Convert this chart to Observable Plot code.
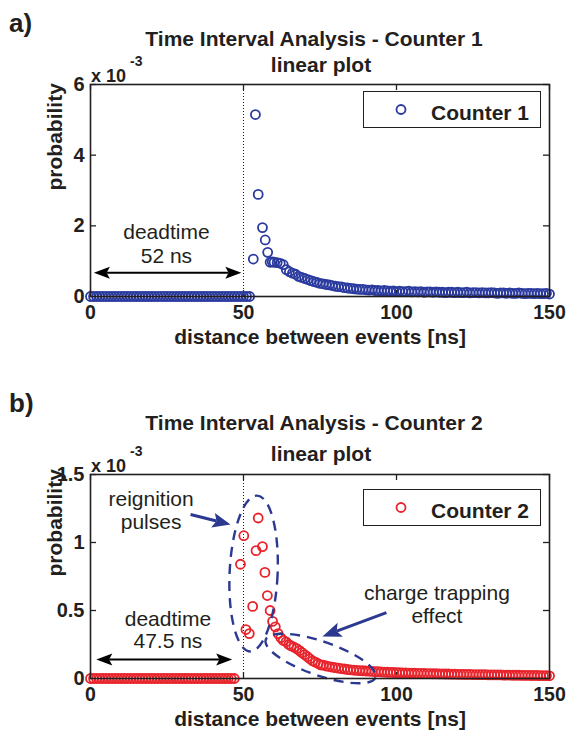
<!DOCTYPE html>
<html>
<head>
<meta charset="utf-8">
<script src="https://cdn.jsdelivr.net/npm/d3@7"></script>
<script src="https://cdn.jsdelivr.net/npm/@observablehq/plot@0.6"></script>
<style>
  body { margin: 0; background: #fff; }
  #fig { position: relative; width: 569px; height: 734px; overflow: hidden; background: #fff;
         font-family: "Liberation Sans", Arial, Helvetica, sans-serif; color: #231f20; }
  .t { position: absolute; white-space: nowrap; line-height: 1; font-weight: bold; z-index: 2; }
  .legend { position: absolute; box-sizing: border-box; border: 1.5px solid #231f20; background: #fff; z-index: 2; }
  svg.panel { position: absolute; left: 0; z-index: 1; }
</style>
</head>
<body>
<div id="fig"></div>
<script>
// ---------------- data ----------------
const xTicks = [0, 50, 100, 150];
const yTicksA = [0, 2, 4, 6];
const yLabelsA = ["0", "2", "4", "6"];
const yTicksB = [0, 0.5, 1, 1.5];
const yLabelsB = ["0", "0.5", "1", "1.5"];

// Counter 1 (probability in units of 1e-3)
const c1ZeroNs = [0,1,2,3,4,5,6,7,8,9,10,11,12,13,14,15,16,17,18,19,20,21,22,23,24,25,26,27,28,29,30,
  31,32,33,34,35,36,37,38,39,40,41,42,43,44,45,46,47,48,49,50,51,52];
const c1PeakNs   = [53.2, 53.9, 54.8, 56.2, 57.1, 57.9, 58.7, 59.4];
const c1PeakProb = [1.06, 5.15, 2.89, 1.95, 1.60, 1.25, 0.97, 0.98];
const c1TailNs = [60,61,62,63,64,65,66,67,68,69,70,71,72,73,74,75,76,77,78,79,80,81,82,83,84,85,86,87,88,89,
  90,91,92,93,94,95,96,97,98,99,100,101,102,103,104,105,106,107,108,109,110,111,112,113,114,115,116,117,118,119,
  120,121,122,123,124,125,126,127,128,129,130,131,132,133,134,135,136,137,138,139,140,141,142,143,144,145,146,147,148,149,150];
const c1TailProb = [0.97,0.96,0.94,0.90,0.76,0.70,0.66,0.63,0.57,0.54,0.51,0.48,0.45,0.42,0.40,0.37,0.36,0.34,0.33,0.31,
  0.29,0.28,0.27,0.25,0.24,0.23,0.22,0.21,0.20,0.20,0.19,0.18,0.19,0.17,0.17,0.16,0.17,0.16,0.15,0.16,
  0.14,0.15,0.14,0.14,0.15,0.13,0.14,0.13,0.14,0.12,0.13,0.13,0.12,0.13,0.12,0.12,0.11,0.12,0.12,0.11,
  0.12,0.11,0.11,0.12,0.10,0.11,0.11,0.10,0.11,0.10,0.10,0.11,0.10,0.09,0.10,0.10,0.09,0.10,0.09,0.09,
  0.10,0.09,0.08,0.09,0.09,0.08,0.09,0.08,0.08,0.09,0.07];

// Counter 2 (probability in units of 1e-3)
const c2ZeroNs = [0,1,2,3,4,5,6,7,8,9,10,11,12,13,14,15,16,17,18,19,20,21,22,23,24,25,26,27,28,29,30,
  31,32,33,34,35,36,37,38,39,40,41,42,43,44,45,46,47];
const c2PeakNs = [49.0,50.1,50.8,51.9,53.0,54.1,54.8,56.2,57.0,57.8,58.7,59.5,60.4,61.3,62.2,63.0,63.9,64.8,65.6,66.5,
  67.4,68.3,69.1,70.0,70.9,71.7,72.6,73.5,74.4,75.2];
const c2PeakProb = [0.84,1.05,0.36,0.33,0.53,0.94,1.18,0.97,0.78,0.61,0.50,0.42,0.38,0.33,0.30,0.28,0.27,0.25,0.24,0.23,
  0.22,0.205,0.19,0.175,0.16,0.145,0.13,0.12,0.11,0.10];
const c2TailNs = [76,77,78,79,80,81,82,83,84,85,86,87,88,89,90,91,92,93,94,95,96,97,98,99,100,101,102,103,104,105,
  106,107,108,109,110,111,112,113,114,115,116,117,118,119,120,121,122,123,124,125,126,127,128,129,130,
  131,132,133,134,135,136,137,138,139,140,141,142,143,144,145,146,147,148,149,150];
const c2TailProb = [0.098,0.092,0.088,0.084,0.080,0.076,0.072,0.070,0.066,0.064,0.062,0.060,0.058,0.057,0.055,0.054,0.052,0.050,0.050,0.048,
  0.047,0.046,0.045,0.044,0.043,0.043,0.042,0.041,0.040,0.040,0.039,0.038,0.038,0.037,0.036,0.036,0.035,0.035,0.034,0.034,
  0.033,0.033,0.032,0.032,0.031,0.031,0.030,0.030,0.030,0.029,0.029,0.028,0.028,0.028,0.027,0.027,0.026,0.026,0.026,0.025,
  0.025,0.025,0.024,0.024,0.024,0.023,0.023,0.023,0.022,0.022,0.022,0.021,0.021,0.021,0.020];

// ---------------- helpers ----------------
const W = 569;
const INK = "#231f20";
const NAVY = "#2b3990";
const FONT = "Liberation Sans, Arial, Helvetica, sans-serif";

function buildSeries(zeroNs, peakNs, peakProb, tailNs, tailProb) {
  return [
    ...zeroNs.map(ns => ({ns, p: 0})),
    ...peakNs.map((ns, i) => ({ns, p: peakProb[i]})),
    ...tailNs.map((ns, i) => ({ns, p: tailProb[i]}))
  ];
}

// filled arrow head, tip at the anchor point, pointing along screen angle (deg)
function headSymbol(angle, L, H) {
  const r = angle * Math.PI / 180, c = Math.cos(r), s = Math.sin(r);
  const p = (u, v) => [u * c - v * s, u * s + v * c];
  return {draw(ctx) {
    const a = p(-L, -H), b = p(-L, H), m = p(-L * 0.8, 0);
    ctx.moveTo(0, 0); ctx.lineTo(a[0], a[1]); ctx.lineTo(m[0], m[1]); ctx.lineTo(b[0], b[1]); ctx.closePath();
  }};
}
// rotated ellipse outline (screen pixels)
function ellipseSymbol(rx, ry, angle) {
  const r = angle * Math.PI / 180, c = Math.cos(r), s = Math.sin(r), k = 0.5523;
  const P = (u, v) => [u * c - v * s, u * s + v * c];
  return {draw(ctx) {
    let q = P(rx, 0); ctx.moveTo(q[0], q[1]);
    const segs = [
      [[rx, k*ry], [k*rx, ry], [0, ry]],
      [[-k*rx, ry], [-rx, k*ry], [-rx, 0]],
      [[-rx, -k*ry], [-k*rx, -ry], [0, -ry]],
      [[k*rx, -ry], [rx, -k*ry], [rx, 0]]
    ];
    for (const [a, b, e] of segs) {
      const A = P(...a), B = P(...b), E = P(...e);
      ctx.bezierCurveTo(A[0], A[1], B[0], B[1], E[0], E[1]);
    }
    ctx.closePath();
  }};
}

function makePanel(cfg) {
  const {height, marginBottom, yMax, yTicks, yLabels, color, series, texts, dbl, arrows, ellipses} = cfg;
  const mL = 90, mR = 20, mT = 84;
  const fw = W - mL - mR, fh = height - mT - marginBottom;
  const kx = fw / 150, ky = fh / yMax;
  const marks = [
    Plot.ruleX([50], {stroke: "#000", strokeWidth: 0.9, strokeDasharray: "1,2"}),
    Plot.tickX(xTicks, {insetTop: fh - 6, stroke: INK, strokeWidth: 1.3}),
    Plot.tickX(xTicks, {insetBottom: fh - 6, stroke: INK, strokeWidth: 1.3}),
    Plot.tickY(yTicks, {insetRight: fw - 6, stroke: INK, strokeWidth: 1.3}),
    Plot.tickY(yTicks, {insetLeft: fw - 6, stroke: INK, strokeWidth: 1.3}),
    Plot.axisX({ticks: xTicks, tickSize: 0, tickPadding: 9, fontSize: 19.5, fontWeight: "bold", fill: INK, label: null}),
    Plot.axisY({ticks: yTicks, tickSize: 0, tickPadding: 6, fontSize: 20, fontWeight: "bold", fill: INK, label: null,
      tickFormat: d => yLabels[yTicks.indexOf(d)]}),
    Plot.text(["probability"], {frameAnchor: "left", dx: -35, rotate: -90, lineAnchor: "middle", fontSize: 21, fontWeight: "bold", fill: INK}),
    Plot.text(["distance between events [ns]"], {frameAnchor: "bottom", lineAnchor: "middle", dy: 40.5, fontSize: 21, fontWeight: "bold", fill: INK}),
    Plot.dot(series, {x: "ns", y: "p", r: 4.5, stroke: color, strokeWidth: 1.8, fill: "none"})
  ];
  // annotation texts
  marks.push(Plot.text(texts, {x: "x", y: "y", text: "text", fontSize: 21, fill: INK}));
  // double-headed arrow (deadtime)
  const Ld = 16, Hd = 6;
  marks.push(Plot.link([dbl], {x1: d => d.x1 + Ld * 0.8 / kx, x2: d => d.x2 - Ld * 0.8 / kx, y1: "y", y2: "y", stroke: "#000", strokeWidth: 2}));
  marks.push(Plot.dot([dbl], {x: "x1", y: "y", symbol: headSymbol(180, Ld, Hd), fill: "#000", stroke: "none", r: 5}));
  marks.push(Plot.dot([dbl], {x: "x2", y: "y", symbol: headSymbol(0, Ld, Hd), fill: "#000", stroke: "none", r: 5}));
  // ellipses
  for (const e of ellipses) {
    marks.push(Plot.dot([e], {x: "x", y: "y", r: 5, symbol: ellipseSymbol(e.rx, e.ry, e.angle),
      fill: "none", stroke: NAVY, strokeWidth: 2.4, strokeDasharray: "10,7"}));
  }
  // blue arrows
  for (const a of arrows) {
    const dxp = (a.x2 - a.x1) * kx, dyp = -(a.y2 - a.y1) * ky;
    const ang = Math.atan2(dyp, dxp);
    const L = a.L, H = a.H;
    const sx = a.x2 - (L * 0.8 * Math.cos(ang)) / kx;
    const sy = a.y2 + (L * 0.8 * Math.sin(ang)) / ky;
    marks.push(Plot.link([a], {x1: "x1", y1: "y1", x2: () => sx, y2: () => sy, stroke: NAVY, strokeWidth: 3}));
    marks.push(Plot.dot([a], {x: "x2", y: "y2", r: 5, symbol: headSymbol(ang * 180 / Math.PI, L, H), fill: NAVY, stroke: "none"}));
  }
  marks.push(Plot.frame({stroke: INK, strokeWidth: 1.6}));
  const svg = Plot.plot({
    width: W, height, marginLeft: mL, marginRight: mR, marginTop: mT, marginBottom,
    x: {domain: [0, 150]}, y: {domain: [0, yMax]},
    style: {fontFamily: FONT, color: INK, background: "transparent", overflow: "visible"},
    marks
  });
  svg.classList.add("panel");
  return svg;
}

// ---------------- panels ----------------
const fig = document.getElementById("fig");

const panelA = makePanel({
  height: 350, marginBottom: 54, yMax: 6, yTicks: yTicksA, yLabels: yLabelsA, color: "#2a3a9e",
  series: buildSeries(c1ZeroNs, c1PeakNs, c1PeakProb, c1TailNs, c1TailProb),
  texts: [{x: 24.8, y: 1.81, text: "deadtime"}, {x: 24.8, y: 1.14, text: "52 ns"}],
  dbl: {x1: 1.1, x2: 49.3, y: 0.67},
  arrows: [], ellipses: []
});
panelA.style.top = "0px";
fig.appendChild(panelA);

const panelB = makePanel({
  height: 344, marginBottom: 56, yMax: 1.5, yTicks: yTicksB, yLabels: yLabelsB, color: "#e8232b",
  series: buildSeries(c2ZeroNs, c2PeakNs, c2PeakProb, c2TailNs, c2TailProb),
  texts: [
    {x: 25.3, y: 0.434, text: "deadtime"}, {x: 25.3, y: 0.276, text: "47.5 ns"},
    {x: 19.8, y: 1.316, text: "reignition"}, {x: 19.8, y: 1.149, text: "pulses"},
    {x: 113.2, y: 0.629, text: "charge trapping"}, {x: 113.2, y: 0.46, text: "effect"}
  ],
  dbl: {x1: 1.9, x2: 46.3, y: 0.14},
  arrows: [
    {x1: 32.7, y1: 1.206, x2: 45.75, y2: 1.132, L: 18, H: 7.5},
    {x1: 96.7, y1: 0.485, x2: 75.8, y2: 0.309, L: 19, H: 7.5}
  ],
  ellipses: [
    {x: 53.3, y: 0.772, rx: 24, ry: 78, angle: 2.6},
    {x: 75.2, y: 0.147, rx: 58, ry: 17, angle: 19}
  ]
});
panelB.style.top = "390px";
fig.appendChild(panelB);

// ---------------- titles, labels, legends (HTML) ----------------
function addText(txt, {left, top, size, center = false, weight = "bold"}) {
  const d = document.createElement("div");
  d.className = "t";
  d.textContent = txt;
  d.style.left = left + "px";
  d.style.top = top + "px";
  d.style.fontSize = size + "px";
  d.style.fontWeight = weight;
  if (center) d.style.transform = "translateX(-50%)";
  fig.appendChild(d);
}
function addLegend(label, color, top) {
  const box = document.createElement("div");
  box.className = "legend";
  box.style.left = "363px"; box.style.top = top + "px";
  box.style.width = "178px"; box.style.height = "37px";
  box.innerHTML = `<svg width="178" height="37" style="position:absolute;left:-1.5px;top:-1.5px">
      <circle cx="38" cy="18.5" r="4.5" fill="none" stroke="${color}" stroke-width="1.8"></circle></svg>
    <div class="t" style="left:67px;top:9.5px;font-size:21px">${label}</div>`;
  fig.appendChild(box);
}

addText("a)", {left: 9, top: 9.8, size: 26});
addText("Time Interval Analysis - Counter 1", {left: 314, top: 28.2, size: 21, center: true});
addText("linear plot", {left: 321, top: 54.2, size: 21, center: true});
addText("x 10", {left: 91, top: 66.8, size: 18});
addText("-3", {left: 130, top: 54, size: 14});
addLegend("Counter 1", "#2a3a9e", 91);

addText("b)", {left: 9, top: 389.8, size: 26});
addText("Time Interval Analysis - Counter 2", {left: 314, top: 412.2, size: 21, center: true});
addText("linear plot", {left: 321, top: 443.2, size: 21, center: true});
addText("x 10", {left: 91, top: 456.8, size: 18});
addText("-3", {left: 130, top: 444, size: 14});
addLegend("Counter 2", "#e8232b", 489);
</script>
</body>
</html>
